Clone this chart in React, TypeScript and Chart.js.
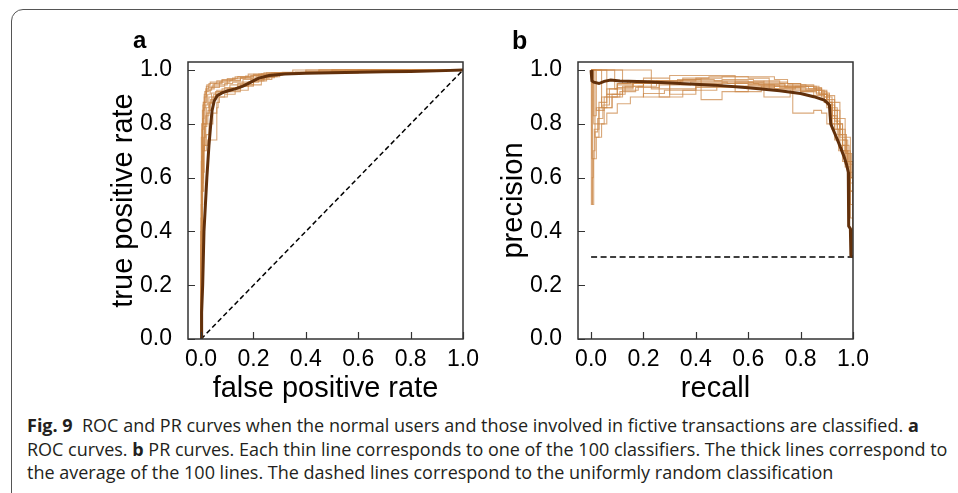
import React, { useEffect, useRef } from 'react';
import { Chart, registerables } from 'chart.js';
Chart.register(...registerables);

// ---------- data ----------
const tickValues = [0, 0.2, 0.4, 0.6, 0.8, 1.0];

// ROC: average curve (false positive rate, true positive rate)
const rocAvg = [
  [0, 0], [0.002, 0.1], [0.006, 0.2], [0.011, 0.4], [0.022, 0.6], [0.03, 0.72], [0.037, 0.8],
  [0.042, 0.85], [0.05, 0.885], [0.062, 0.905], [0.08, 0.915], [0.1, 0.922], [0.13, 0.93],
  [0.16, 0.94], [0.19, 0.955], [0.22, 0.97], [0.26, 0.98], [0.32, 0.985], [0.4, 0.988],
  [0.5, 0.99], [0.6, 0.992], [0.7, 0.994], [0.8, 0.995], [0.9, 0.997], [1.0, 1.0],
];
// ROC: individual classifiers (a sample of the thin lines)
const rocThin1 = [[0, 0], [0.002, 0.35], [0.004, 0.6], [0.008, 0.8], [0.014, 0.88], [0.022, 0.92], [0.035, 0.945], [0.08, 0.955], [0.13, 0.965], [0.18, 0.975], [0.24, 0.985], [0.4, 0.99], [0.7, 0.995], [1, 1]];
const rocThin2 = [[0, 0], [0.004, 0.3], [0.01, 0.55], [0.02, 0.7], [0.03, 0.76], [0.045, 0.8], [0.06, 0.84], [0.07, 0.88], [0.09, 0.9], [0.13, 0.91], [0.18, 0.925], [0.23, 0.945], [0.27, 0.965], [0.3, 0.975], [0.33, 0.985], [0.6, 0.99], [1, 1]];
const rocThin3 = [[0, 0], [0.003, 0.4], [0.012, 0.62], [0.025, 0.72], [0.06, 0.74], [0.065, 0.86], [0.1, 0.9], [0.15, 0.92], [0.2, 0.94], [0.25, 0.96], [0.29, 0.975], [0.32, 0.985], [0.5, 0.99], [1, 1]];
const rocThin4 = [[0, 0], [0.001, 0.5], [0.005, 0.75], [0.012, 0.85], [0.02, 0.9], [0.04, 0.925], [0.07, 0.935], [0.1, 0.945], [0.15, 0.96], [0.2, 0.97], [0.26, 0.98], [0.31, 0.988], [0.55, 0.992], [1, 1]];
const rocThin5 = [[0, 0], [0.003, 0.25], [0.006, 0.5], [0.012, 0.7], [0.02, 0.8], [0.03, 0.86], [0.04, 0.9], [0.06, 0.915], [0.09, 0.925], [0.14, 0.935], [0.19, 0.95], [0.24, 0.97], [0.29, 0.98], [0.36, 0.987], [0.65, 0.993], [1, 1]];
const rocThin6 = [[0, 0], [0.002, 0.45], [0.007, 0.68], [0.015, 0.8], [0.025, 0.87], [0.035, 0.91], [0.05, 0.93], [0.09, 0.94], [0.12, 0.95], [0.16, 0.955], [0.21, 0.965], [0.25, 0.975], [0.28, 0.982], [0.45, 0.99], [1, 1]];
const rocThin7 = [[0, 0], [0.005, 0.3], [0.009, 0.6], [0.018, 0.75], [0.03, 0.83], [0.045, 0.88], [0.055, 0.9], [0.08, 0.92], [0.11, 0.93], [0.16, 0.945], [0.2, 0.955], [0.24, 0.965], [0.28, 0.978], [0.32, 0.985], [0.5, 0.99], [0.9, 0.995], [1, 1]];
const rocThin8 = [[0, 0], [0.001, 0.3], [0.004, 0.55], [0.01, 0.78], [0.018, 0.86], [0.028, 0.93], [0.05, 0.94], [0.08, 0.95], [0.12, 0.962], [0.17, 0.97], [0.22, 0.978], [0.27, 0.985], [0.45, 0.99], [1, 1]];
const rocThin9 = [[0, 0], [0.002, 0.4], [0.006, 0.65], [0.011, 0.82], [0.02, 0.88], [0.03, 0.92], [0.045, 0.935], [0.07, 0.945], [0.11, 0.955], [0.15, 0.962], [0.19, 0.972], [0.23, 0.98], [0.3, 0.986], [0.5, 0.99], [1, 1]];
const rocThin10 = [[0, 0], [0.004, 0.35], [0.008, 0.58], [0.016, 0.72], [0.026, 0.8], [0.036, 0.85], [0.048, 0.89], [0.065, 0.91], [0.1, 0.92], [0.14, 0.93], [0.18, 0.94], [0.22, 0.955], [0.26, 0.97], [0.3, 0.98], [0.34, 0.986], [0.6, 0.99], [1, 1]];
const rocThin11 = [[0, 0], [0.001, 0.42], [0.003, 0.66], [0.007, 0.8], [0.012, 0.87], [0.02, 0.91], [0.03, 0.94], [0.06, 0.95], [0.1, 0.96], [0.14, 0.968], [0.2, 0.976], [0.25, 0.984], [0.35, 0.99], [1, 1]];
const rocThin12 = [[0, 0], [0.003, 0.3], [0.007, 0.55], [0.013, 0.7], [0.022, 0.79], [0.032, 0.84], [0.04, 0.875], [0.055, 0.9], [0.075, 0.91], [0.11, 0.92], [0.15, 0.93], [0.2, 0.945], [0.24, 0.96], [0.28, 0.972], [0.31, 0.982], [0.4, 0.988], [1, 1]];
const rocRandom = [[0, 0], [1, 1]];

// PR: average curve (recall, precision)
const prAvg = [
  [0, 1.0], [0.003, 0.96], [0.01, 0.955], [0.03, 0.95], [0.05, 0.958], [0.075, 0.963], [0.11, 0.959],
  [0.21, 0.957], [0.34, 0.95], [0.47, 0.944], [0.6, 0.934], [0.72, 0.923], [0.8, 0.913], [0.85, 0.901],
  [0.89, 0.888], [0.905, 0.875], [0.91, 0.87], [0.915, 0.8], [0.93, 0.765], [0.945, 0.73], [0.965, 0.68],
  [0.975, 0.65], [0.982, 0.62], [0.983, 0.55], [0.984, 0.42], [0.99, 0.41], [0.992, 0.31], [1.0, 0.305],
];
// PR: individual classifiers (a sample of the thin lines)
const prThin1 = [[0, 1], [0.005, 1], [0.005, 0.5], [0.01, 0.67], [0.02, 0.75], [0.04, 0.8], [0.06, 0.84], [0.1, 0.875], [0.15, 0.9], [0.2, 0.913], [0.28, 0.925], [0.4, 0.935], [0.55, 0.94], [0.7, 0.93], [0.8, 0.92], [0.86, 0.91], [0.9, 0.88], [0.92, 0.82], [0.94, 0.76], [0.96, 0.7], [0.98, 0.6], [0.99, 0.45], [1, 0.31]];
const prThin2 = [[0, 1], [0.23, 1], [0.23, 0.93], [0.3, 0.96], [0.4, 0.97], [0.5, 0.975], [0.6, 0.975], [0.7, 0.965], [0.75, 0.95], [0.8, 0.945], [0.85, 0.935], [0.88, 0.92], [0.9, 0.89], [0.93, 0.85], [0.95, 0.78], [0.97, 0.7], [0.99, 0.6], [1, 0.31]];
const prThin3 = [[0, 1], [0.02, 1], [0.02, 0.85], [0.05, 0.9], [0.1, 0.95], [0.14, 0.96], [0.2, 0.96], [0.2, 0.9], [0.3, 0.93], [0.4, 0.945], [0.5, 0.95], [0.6, 0.945], [0.7, 0.94], [0.8, 0.925], [0.87, 0.91], [0.9, 0.87], [0.92, 0.8], [0.95, 0.72], [0.97, 0.65], [0.98, 0.55], [1, 0.31]];
const prThin4 = [[0, 1], [0.01, 1], [0.01, 0.8], [0.03, 0.88], [0.06, 0.93], [0.1, 0.95], [0.15, 0.96], [0.3, 0.97], [0.3, 0.91], [0.4, 0.94], [0.55, 0.955], [0.65, 0.955], [0.75, 0.95], [0.77, 0.84], [0.85, 0.85], [0.88, 0.84], [0.9, 0.8], [0.93, 0.74], [0.96, 0.66], [0.99, 0.5], [1, 0.31]];
const prThin5 = [[0, 1], [0.06, 1], [0.06, 0.91], [0.12, 0.94], [0.2, 0.955], [0.33, 0.965], [0.42, 0.97], [0.42, 0.89], [0.5, 0.92], [0.6, 0.935], [0.7, 0.94], [0.8, 0.93], [0.86, 0.915], [0.89, 0.89], [0.91, 0.83], [0.93, 0.78], [0.96, 0.7], [0.98, 0.62], [1, 0.31]];
const prThin6 = [[0, 1], [0.003, 1], [0.003, 0.67], [0.012, 0.78], [0.03, 0.86], [0.06, 0.91], [0.1, 0.935], [0.16, 0.95], [0.25, 0.96], [0.35, 0.965], [0.47, 0.96], [0.6, 0.955], [0.66, 0.96], [0.66, 0.9], [0.76, 0.925], [0.84, 0.925], [0.88, 0.9], [0.91, 0.86], [0.94, 0.8], [0.96, 0.74], [0.98, 0.66], [1, 0.5], [1, 0.31]];
const prThin7 = [[0, 1], [0.12, 1], [0.12, 0.95], [0.2, 0.97], [0.3, 0.98], [0.45, 0.98], [0.55, 0.98], [0.55, 0.92], [0.65, 0.94], [0.75, 0.945], [0.82, 0.94], [0.87, 0.925], [0.9, 0.905], [0.93, 0.88], [0.95, 0.82], [0.97, 0.75], [0.99, 0.66], [1, 0.31]];
const prThin8 = [[0, 1], [0.04, 1], [0.04, 0.86], [0.08, 0.91], [0.13, 0.94], [0.2, 0.95], [0.26, 0.955], [0.26, 0.9], [0.35, 0.925], [0.48, 0.94], [0.6, 0.945], [0.72, 0.935], [0.8, 0.92], [0.85, 0.905], [0.89, 0.88], [0.92, 0.83], [0.94, 0.78], [0.96, 0.72], [0.985, 0.65], [1, 0.31]];
const prThin9 = [[0, 1], [0.008, 1], [0.008, 0.83], [0.02, 0.86], [0.04, 0.9], [0.07, 0.93], [0.1, 0.945], [0.16, 0.95], [0.24, 0.95], [0.34, 0.96], [0.5, 0.965], [0.62, 0.96], [0.72, 0.95], [0.8, 0.94], [0.86, 0.925], [0.89, 0.9], [0.92, 0.85], [0.94, 0.8], [0.96, 0.74], [0.975, 0.66], [0.99, 0.58], [1, 0.31]];
const prThin10 = [[0, 1], [0.015, 1], [0.015, 0.75], [0.03, 0.8], [0.05, 0.86], [0.08, 0.9], [0.12, 0.925], [0.18, 0.94], [0.25, 0.95], [0.38, 0.955], [0.52, 0.95], [0.64, 0.945], [0.74, 0.935], [0.82, 0.925], [0.87, 0.91], [0.9, 0.86], [0.92, 0.78], [0.945, 0.7], [0.97, 0.64], [0.99, 0.55], [1, 0.31]];
const prThin11 = [[0, 1], [0.09, 1], [0.09, 0.93], [0.16, 0.95], [0.22, 0.96], [0.35, 0.97], [0.45, 0.975], [0.6, 0.97], [0.68, 0.97], [0.68, 0.93], [0.78, 0.94], [0.85, 0.93], [0.88, 0.915], [0.91, 0.88], [0.93, 0.82], [0.95, 0.76], [0.975, 0.69], [0.995, 0.6], [1, 0.31]];
const prThin12 = [[0, 1], [0.001, 1], [0.001, 0.5], [0.004, 0.6], [0.008, 0.7], [0.015, 0.77], [0.025, 0.82], [0.045, 0.87], [0.07, 0.9], [0.11, 0.92], [0.17, 0.935], [0.26, 0.945], [0.38, 0.95], [0.5, 0.955], [0.62, 0.95], [0.74, 0.94], [0.83, 0.93], [0.88, 0.91], [0.91, 0.87], [0.93, 0.81], [0.95, 0.75], [0.97, 0.69], [0.985, 0.6], [1, 0.31]];
const prRandom = [[0, 0.305], [1, 0.305]];

const rocThinAll = [rocThin1, rocThin2, rocThin3, rocThin4, rocThin5, rocThin6, rocThin7, rocThin8, rocThin9, rocThin10, rocThin11, rocThin12];
const prThinAll = [prThin1, prThin2, prThin3, prThin4, prThin5, prThin6, prThin7, prThin8, prThin9, prThin10, prThin11, prThin12];

// ---------- styles ----------
const FONT = "'Liberation Sans', Arial, Helvetica, sans-serif";
const THIN = 'rgba(203,135,70,0.72)';
const THICK = '#62300b';
const AXIS = '#333333';

const toXY = (arr: number[][]) => arr.map(([x, y]) => ({ x, y }));

const framePlugin = {
  id: 'frame',
  afterDraw(chart: any, _args: any, opts: any) {
    const { ctx, chartArea: a, scales } = chart;
    ctx.save();
    ctx.strokeStyle = AXIS;
    ctx.lineWidth = 1.5;
    ctx.strokeRect(a.left, a.top, a.right - a.left, a.bottom - a.top);
    ctx.lineWidth = 1.2;
    ctx.beginPath();
    for (const t of scales.x.ticks) {
      const px = Math.round(scales.x.getPixelForValue(t.value)) + 0.5;
      ctx.moveTo(px, a.bottom);
      ctx.lineTo(px, a.bottom - 7);
    }
    for (const t of scales.y.ticks) {
      const py = Math.round(scales.y.getPixelForValue(t.value)) + 0.5;
      ctx.moveTo(a.left, py);
      ctx.lineTo(a.left + 7, py);
    }
    ctx.stroke();
    if (opts && opts.letter) {
      ctx.fillStyle = '#000';
      ctx.font = `bold ${opts.size}px ${FONT}`;
      ctx.textBaseline = 'alphabetic';
      ctx.textAlign = 'left';
      ctx.fillText(opts.letter, opts.x, opts.y);
    }
    ctx.restore();
  },
};

function makeConfig(avg: number[][], thin: number[][][], rnd: number[][], dash: number[], xTitle: string, yTitle: string, letter: any, stepped: any) {
  const datasets: any[] = [];
  datasets.push({ data: toXY(avg), borderColor: THICK, borderWidth: 3, order: 0, stepped: false });
  datasets.push({ data: toXY(rnd), borderColor: '#000', borderWidth: 1.5, borderDash: dash, order: 1 });
  thin.forEach((t) => datasets.push({ data: toXY(t), borderColor: THIN, borderWidth: 1.1, order: 2, stepped }));
  return {
    type: 'scatter',
    data: { datasets: datasets.map((d) => ({ showLine: true, pointRadius: 0, fill: false, tension: 0, ...d })) },
    options: {
      animation: false,
      responsive: false,
      events: [],
      layout: { padding: { left: 0, right: 17, top: 42, bottom: 0 } },
      plugins: { legend: { display: false }, tooltip: { enabled: false }, frame: letter },
      scales: {
        x: {
          type: 'linear', min: -0.05, max: 1.0,
          grid: { display: false }, border: { display: false },
          afterBuildTicks: (s: any) => { s.ticks = tickValues.map((v) => ({ value: v })); },
          afterFit: (s: any) => { s.height = 67; },
          ticks: { callback: (v: any) => Number(v).toFixed(1), color: '#000', font: { family: FONT, size: 23 }, padding: -1, maxRotation: 0, autoSkip: false },
          title: { display: true, text: xTitle, color: '#000', font: { family: FONT, size: 29 }, padding: { top: 0, bottom: 0 } },
        },
        y: {
          type: 'linear', min: 0, max: 1.03,
          grid: { display: false }, border: { display: false },
          afterBuildTicks: (s: any) => { s.ticks = tickValues.map((v) => ({ value: v })); },
          afterFit: (s: any) => { s.width = 88; },
          ticks: { callback: (v: any) => Number(v).toFixed(1), color: '#000', font: { family: FONT, size: 23 }, padding: 8, autoSkip: false },
          title: { display: true, text: yTitle, color: '#000', font: { family: FONT, size: 29 }, padding: { top: 7, bottom: 0 } },
        },
      },
    },
    plugins: [framePlugin],
  };
}

function Panel({ cfg, left, top }: { cfg: any; left: number; top: number }) {
  const ref = useRef<HTMLCanvasElement>(null);
  useEffect(() => {
    if (!ref.current) return;
    const chart = new Chart(ref.current, cfg);
    return () => chart.destroy();
  }, []);
  return <canvas ref={ref} width={380} height={386} style={{ position: 'absolute', left, top, width: 380, height: 386 }} />;
}

const captionStyle: React.CSSProperties = {
  position: 'absolute', left: 27, top: 414, fontFamily: "'Open Sans', 'Noto Sans', sans-serif",
  fontSize: 18, lineHeight: '23.5px', color: '#231f20', whiteSpace: 'nowrap',
};

export default function App() {
  const cfgA = makeConfig(rocAvg, rocThinAll, rocRandom, [5, 3], 'false positive rate', 'true positive rate', { letter: 'a', x: 33, y: 28, size: 24 }, 'after');
  const cfgB = makeConfig(prAvg, prThinAll, prRandom, [6, 3.5], 'recall', 'precision', { letter: 'b', x: 22, y: 29, size: 25 }, 'before');
  return (
    <div style={{ position: 'absolute', left: 0, top: 0, width: 958, height: 493, overflow: 'hidden', background: '#fff' }}>
      <div style={{ position: 'absolute', left: 11, top: 9, width: 1200, height: 800, border: '1px solid #555', borderRadius: 12 }} />
      <Panel cfg={cfgA} left={100} top={20} />
      <Panel cfg={cfgB} left={490} top={20} />
      <div style={captionStyle}>
        <div><b>Fig. 9</b>&nbsp; ROC and PR curves when the normal users and those involved in fictive transactions are classified. <b>a</b></div>
        <div>ROC curves. <b>b</b> PR curves. Each thin line corresponds to one of the 100 classifiers. The thick lines correspond to</div>
        <div>the average of the 100 lines. The dashed lines correspond to the uniformly random classification</div>
      </div>
    </div>
  );
}
